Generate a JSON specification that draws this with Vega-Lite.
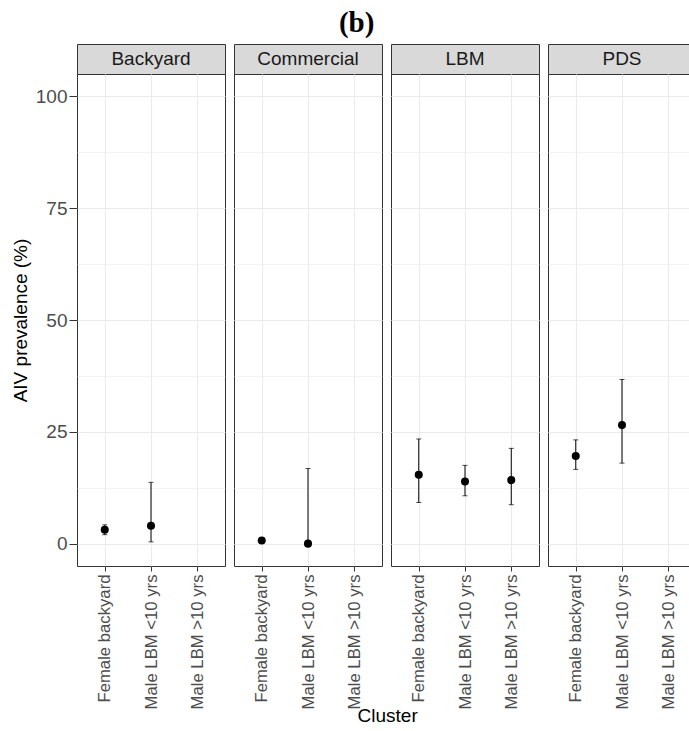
{
  "$schema": "https://vega.github.io/schema/vega-lite/v6.json",
  "padding": {"left": 10, "top": 8, "right": 0, "bottom": 0},
  "background": "white",
  "title": {"text": "(b)", "font": "Liberation Serif", "fontSize": 29, "fontWeight": "bold", "color": "black", "anchor": "middle", "offset": 6, "dx": 3},
  "datasets": {
    "pts": [
      {"Type": "Backyard", "Cluster": "Female backyard", "prev": 3.1, "lo": 2.0, "hi": 4.2},
      {"Type": "Backyard", "Cluster": "Male LBM <10 yrs", "prev": 4.0, "lo": 0.4, "hi": 13.7},
      {"Type": "Commercial", "Cluster": "Female backyard", "prev": 0.7, "lo": 0.2, "hi": 1.2},
      {"Type": "Commercial", "Cluster": "Male LBM <10 yrs", "prev": 0.0, "lo": 0.0, "hi": 16.8},
      {"Type": "LBM", "Cluster": "Female backyard", "prev": 15.4, "lo": 9.2, "hi": 23.4},
      {"Type": "LBM", "Cluster": "Male LBM <10 yrs", "prev": 13.9, "lo": 10.7, "hi": 17.5},
      {"Type": "LBM", "Cluster": "Male LBM >10 yrs", "prev": 14.2, "lo": 8.7, "hi": 21.3},
      {"Type": "PDS", "Cluster": "Female backyard", "prev": 19.6, "lo": 16.6, "hi": 23.2},
      {"Type": "PDS", "Cluster": "Male LBM <10 yrs", "prev": 26.5, "lo": 18.0, "hi": 36.7}
    ]
  },
  "config": {
    "font": "Liberation Sans",
    "view": {"stroke": "#333333", "strokeWidth": 1},
    "axis": {"labelFont": "Liberation Sans", "titleFont": "Liberation Sans", "gridColor": "#EBEBEB", "tickColor": "#333333", "labelColor": "#4D4D4D", "domain": false},
    "axisX": {"labelAngle": -90, "labelFontSize": 16.7, "tickSize": 5, "labelPadding": 3, "grid": true, "gridWidth": 1.1},
    "axisY": {"labelFontSize": 19, "tickSize": 8, "labelPadding": 2},
    "concat": {"spacing": 7}
  },
  "vconcat": [
    {
      "title": {"text": "Cluster", "orient": "bottom", "font": "Liberation Sans", "fontSize": 19, "fontWeight": "normal", "color": "black", "anchor": "middle", "offset": -2, "dx": 34},
      "spacing": 7,
      "hconcat": [
        {
          "spacing": 0,
          "bounds": "flush",
          "vconcat": [
            {
              "width": 148, "height": 30,
              "view": {"fill": "#D9D9D9", "stroke": "#333333"},
              "data": {"values": [{"label": "Backyard"}]},
              "mark": {"type": "text", "fontSize": 19, "color": "#1A1A1A", "font": "Liberation Sans"},
              "encoding": {"text": {"field": "label", "type": "nominal"}}
            },
            {
              "width": 148, "height": 492,
              "data": {"name": "pts"},
              "transform": [{"filter": "datum.Type === 'Backyard'"}],
              "encoding": {
                "x": {"field": "Cluster", "type": "nominal", "scale": {"type": "point", "domain": ["Female backyard", "Male LBM <10 yrs", "Male LBM >10 yrs"], "padding": 0.6}, "axis": {"title": null}}
              },
              "layer": [
                {
                  "mark": {"type": "errorbar", "color": "black", "ticks": {"size": 5, "color": "black"}},
                  "encoding": {
                    "y": {"field": "lo", "type": "quantitative", "scale": {"domain": [-5, 105], "nice": false, "zero": false},
                      "title": "AIV prevalence (%)",
                      "axis": {"title": "AIV prevalence (%)", "titleFontSize": 19, "titleFontWeight": "normal", "titleColor": "black", "titlePadding": 5,
                        "values": [0, 12.5, 25, 37.5, 50, 62.5, 75, 87.5, 100],
                        "labelExpr": "datum.value % 25 === 0 ? datum.label : ''",
                        "gridWidth": {"condition": {"test": "datum.value % 25 !== 0", "value": 0.6}, "value": 1.1},
                        "tickOpacity": {"condition": {"test": "datum.value % 25 !== 0", "value": 0}, "value": 1}}},
                    "y2": {"field": "hi"}
                  }
                },
                {
                  "mark": {"type": "point", "filled": true, "size": 65, "color": "black", "opacity": 1},
                  "encoding": {"y": {"field": "prev", "type": "quantitative", "title": "AIV prevalence (%)"}}
                }
              ]
            }
          ]
        },
        {
          "spacing": 0,
          "bounds": "flush",
          "vconcat": [
            {
              "width": 148, "height": 30,
              "view": {"fill": "#D9D9D9", "stroke": "#333333"},
              "data": {"values": [{"label": "Commercial"}]},
              "mark": {"type": "text", "fontSize": 19, "color": "#1A1A1A", "font": "Liberation Sans"},
              "encoding": {"text": {"field": "label", "type": "nominal"}}
            },
            {
              "width": 148, "height": 492,
              "data": {"name": "pts"},
              "transform": [{"filter": "datum.Type === 'Commercial'"}],
              "encoding": {
                "x": {"field": "Cluster", "type": "nominal", "scale": {"type": "point", "domain": ["Female backyard", "Male LBM <10 yrs", "Male LBM >10 yrs"], "padding": 0.6}, "axis": {"title": null}}
              },
              "layer": [
                {
                  "mark": {"type": "errorbar", "color": "black", "ticks": {"size": 5, "color": "black"}},
                  "encoding": {
                    "y": {"field": "lo", "type": "quantitative", "scale": {"domain": [-5, 105], "nice": false, "zero": false},
                      "title": null,
                      "axis": {"title": null, "labels": false, "ticks": false,
                        "values": [0, 12.5, 25, 37.5, 50, 62.5, 75, 87.5, 100],
                        "gridWidth": {"condition": {"test": "datum.value % 25 !== 0", "value": 0.6}, "value": 1.1}}},
                    "y2": {"field": "hi"}
                  }
                },
                {
                  "mark": {"type": "point", "filled": true, "size": 65, "color": "black", "opacity": 1},
                  "encoding": {"y": {"field": "prev", "type": "quantitative", "title": null}}
                }
              ]
            }
          ]
        },
        {
          "spacing": 0,
          "bounds": "flush",
          "vconcat": [
            {
              "width": 148, "height": 30,
              "view": {"fill": "#D9D9D9", "stroke": "#333333"},
              "data": {"values": [{"label": "LBM"}]},
              "mark": {"type": "text", "fontSize": 19, "color": "#1A1A1A", "font": "Liberation Sans"},
              "encoding": {"text": {"field": "label", "type": "nominal"}}
            },
            {
              "width": 148, "height": 492,
              "data": {"name": "pts"},
              "transform": [{"filter": "datum.Type === 'LBM'"}],
              "encoding": {
                "x": {"field": "Cluster", "type": "nominal", "scale": {"type": "point", "domain": ["Female backyard", "Male LBM <10 yrs", "Male LBM >10 yrs"], "padding": 0.6}, "axis": {"title": null}}
              },
              "layer": [
                {
                  "mark": {"type": "errorbar", "color": "black", "ticks": {"size": 5, "color": "black"}},
                  "encoding": {
                    "y": {"field": "lo", "type": "quantitative", "scale": {"domain": [-5, 105], "nice": false, "zero": false},
                      "title": null,
                      "axis": {"title": null, "labels": false, "ticks": false,
                        "values": [0, 12.5, 25, 37.5, 50, 62.5, 75, 87.5, 100],
                        "gridWidth": {"condition": {"test": "datum.value % 25 !== 0", "value": 0.6}, "value": 1.1}}},
                    "y2": {"field": "hi"}
                  }
                },
                {
                  "mark": {"type": "point", "filled": true, "size": 65, "color": "black", "opacity": 1},
                  "encoding": {"y": {"field": "prev", "type": "quantitative", "title": null}}
                }
              ]
            }
          ]
        },
        {
          "spacing": 0,
          "bounds": "flush",
          "vconcat": [
            {
              "width": 148, "height": 30,
              "view": {"fill": "#D9D9D9", "stroke": "#333333"},
              "data": {"values": [{"label": "PDS"}]},
              "mark": {"type": "text", "fontSize": 19, "color": "#1A1A1A", "font": "Liberation Sans"},
              "encoding": {"text": {"field": "label", "type": "nominal"}}
            },
            {
              "width": 148, "height": 492,
              "data": {"name": "pts"},
              "transform": [{"filter": "datum.Type === 'PDS'"}],
              "encoding": {
                "x": {"field": "Cluster", "type": "nominal", "scale": {"type": "point", "domain": ["Female backyard", "Male LBM <10 yrs", "Male LBM >10 yrs"], "padding": 0.6}, "axis": {"title": null}}
              },
              "layer": [
                {
                  "mark": {"type": "errorbar", "color": "black", "ticks": {"size": 5, "color": "black"}},
                  "encoding": {
                    "y": {"field": "lo", "type": "quantitative", "scale": {"domain": [-5, 105], "nice": false, "zero": false},
                      "title": null,
                      "axis": {"title": null, "labels": false, "ticks": false,
                        "values": [0, 12.5, 25, 37.5, 50, 62.5, 75, 87.5, 100],
                        "gridWidth": {"condition": {"test": "datum.value % 25 !== 0", "value": 0.6}, "value": 1.1}}},
                    "y2": {"field": "hi"}
                  }
                },
                {
                  "mark": {"type": "point", "filled": true, "size": 65, "color": "black", "opacity": 1},
                  "encoding": {"y": {"field": "prev", "type": "quantitative", "title": null}}
                }
              ]
            }
          ]
        }
      ]
    }
  ]
}
